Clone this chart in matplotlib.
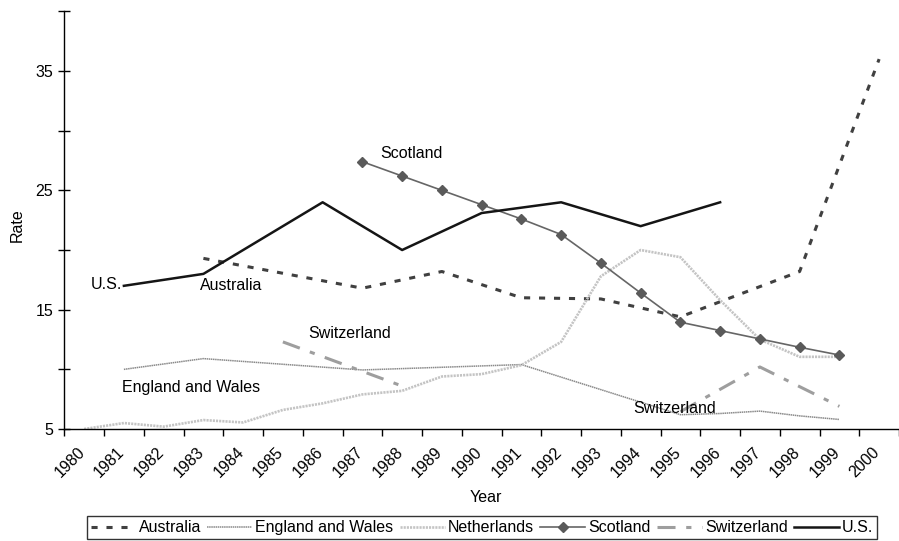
import numpy as np
import matplotlib
matplotlib.use("Agg")
import matplotlib.pyplot as plt
from matplotlib import transforms

plt.rcParams['font.family'] = ['Liberation Sans', 'DejaVu Sans']

# ---- data ----
year_labels = [str(y) for y in range(1980, 2001)]

aus_years = [1983, 1987, 1989, 1991, 1993, 1995, 1998, 2000]
aus_vals = [19.3, 16.8, 18.2, 16.0, 15.9, 14.4, 18.2, 36.0]

eng_years = [1981, 1983, 1987, 1991, 1995, 1996, 1997, 1998, 1999]
eng_vals = [10.0, 10.9, 9.95, 10.4, 6.2, 6.3, 6.5, 6.1, 5.8]

nl_years = list(range(1980, 2000))
nl_vals = [5.0, 5.5, 5.2, 5.75, 5.55, 6.6, 7.15, 7.9, 8.2, 9.4,
           9.6, 10.35, 12.3, 17.8, 20.0, 19.4, 15.8, 12.5, 11.05, 11.05]

sco_years = list(range(1987, 2000))
sco_vals = [27.4, 26.2, 25.0, 23.8, 22.6, 21.3, 18.9, 16.4, 13.95, 13.25,
            12.55, 11.85, 11.2]

sw_years = [1985, 1988, 1991, 1995, 1997, 1999]
sw_vals = [12.3, 8.6, np.nan, 6.45, 10.2, 6.9]

us_years = [1981, 1983, 1986, 1988, 1990, 1992, 1994, 1996]
us_vals = [17.0, 18.0, 24.0, 20.0, 23.1, 24.0, 22.0, 24.0]

base_year = 1980
def xs(years):
    return [y - base_year for y in years]

FS = 11.5

fig = plt.figure(figsize=(8.99, 5.41), dpi=100)
ax = fig.add_axes([0.0715, 0.207, 0.9285, 0.772])

l_aus, = ax.plot(xs(aus_years), aus_vals, color='#404040', lw=2.2,
                 linestyle=(0, (2.0, 2.9)), label='Australia')
l_eng, = ax.plot(xs(eng_years), eng_vals, color='#8a8a8a', lw=1.1,
                 linestyle=(0, (1.0, 0.4)), label='England and Wales')
l_nl, = ax.plot(xs(nl_years), nl_vals, color='#c4c4c4', lw=1.9,
                linestyle=(0, (0.8, 0.4)), label='Netherlands')
l_sco, = ax.plot(xs(sco_years), sco_vals, color='#666666', lw=1.2,
                 marker='D', markersize=5, markerfacecolor='#5a5a5a',
                 markeredgecolor='#5a5a5a', label='Scotland')
l_sw, = ax.plot(xs(sw_years), sw_vals, color='#9e9e9e', lw=2.2,
                linestyle=(0, (5.9, 3.5, 1.7, 3.5)), label='Switzerland')
l_us, = ax.plot(xs(us_years), us_vals, color='#151515', lw=1.8, label='U.S.')

ax.set_xlim(-0.5, 20.37)
ax.set_ylim(5, 40)

ax.spines['top'].set_visible(False)
ax.spines['right'].set_visible(False)
ax.spines['left'].set_linewidth(1.0)
ax.spines['bottom'].set_linewidth(1.0)

ax.set_yticks([5, 15, 25, 35])
ax.set_yticks([10, 20, 30, 40], minor=True)
ax.tick_params(axis='y', which='both', direction='inout', length=8, width=1,
               labelsize=FS, pad=4)

# x: ticks at category boundaries, labels at centres
ax.set_xticks(np.arange(-0.5, 21, 1.0))
ax.set_xticklabels([])
ax.set_xticks(np.arange(0, 21), minor=True)
ax.set_xticklabels(year_labels, minor=True, rotation=45, ha='right', va='top',
                   rotation_mode='anchor', fontsize=FS)
ax.tick_params(axis='x', which='major', direction='out', length=5, width=1)
ax.tick_params(axis='x', which='minor', length=0, pad=11)
offset = transforms.ScaledTranslation(-7 / 100, 0, fig.dpi_scale_trans)
for lab in ax.get_xticklabels(minor=True):
    lab.set_transform(lab.get_transform() + offset)

fig.text(486 / 899, 1 - 497 / 541, 'Year', ha='center', va='center', fontsize=FS)
fig.text(17 / 899, 1 - 225 / 541, 'Rate', ha='center', va='center',
         rotation=90, fontsize=FS)

# annotations
ax.text(8.23, 28.05, 'Scotland', ha='center', va='center', fontsize=FS)
ax.text(0.56, 17.1, 'U.S.', ha='center', va='center', fontsize=FS)
ax.text(3.7, 17.0, 'Australia', ha='center', va='center', fontsize=FS)
ax.text(6.69, 13.0, 'Switzerland', ha='center', va='center', fontsize=FS)
ax.text(2.69, 8.45, 'England and Wales', ha='center', va='center', fontsize=FS)
ax.text(14.86, 6.72, 'Switzerland', ha='center', va='center', fontsize=FS)

leg = fig.legend(handles=[l_aus, l_eng, l_nl, l_sco, l_sw, l_us],
                 loc='lower center', bbox_to_anchor=(482 / 899, 0.003),
                 ncol=6, fontsize=FS, frameon=True, fancybox=False,
                 edgecolor='black', handlelength=2.8, handletextpad=0.2,
                 columnspacing=0.4, borderpad=0.25, borderaxespad=0)
leg.get_frame().set_linewidth(1.0)

fig.savefig('out.png', dpi=100)
